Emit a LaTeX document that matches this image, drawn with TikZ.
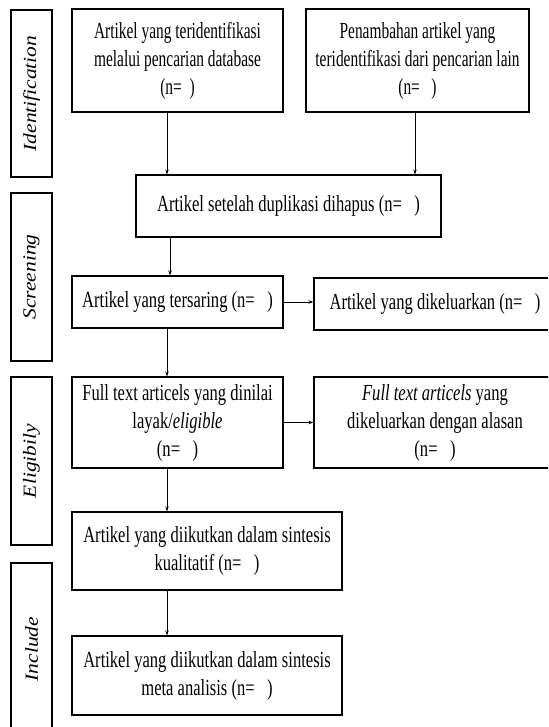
\documentclass[tikz,border=0pt]{standalone}
\usepackage{fontspec}
\usepackage{graphicx}
\usetikzlibrary{arrows.meta}
\setmainfont{Liberation Serif}
\newfontfamily\boxfont[FakeStretch=0.72]{Liberation Serif}
\newfontfamily\boxfontn[FakeStretch=0.67]{Liberation Serif}
\newfontfamily\sidefont{Liberation Serif}
\begin{document}
\begin{tikzpicture}[x=1pt,y=-1pt,
  box/.style={draw, line width=1.1pt, align=center, inner sep=0pt,
    font=\fontsize{23}{28}\selectfont\boxfont},
  narrow/.style={font=\fontsize{23}{28}\selectfont\boxfontn},
  side/.style={draw, line width=1.1pt, inner sep=0pt, minimum width=41pt},
  sidelabel/.style={rotate=90, inner sep=0pt,
    font=\fontsize{21.5}{26}\selectfont\sidefont\itshape},
  arr/.style={line width=0.8pt, -{Stealth[length=5pt,width=3.5pt]}}]
\useasboundingbox (0,0) rectangle (548,727);
\clip (0,0) rectangle (548,727);
\fill[white] (0,0) rectangle (548,727);

% side stage boxes
\node[side, minimum height=167pt] (s1) at (31.5,93.5) {};
\node[side, minimum height=168pt] (s2) at (31.5,277) {};
\node[side, minimum height=168pt] (s3) at (31.5,461) {};
\node[side, minimum height=172pt] (s4) at (31.5,649) {};
\node[sidelabel] (l1) at (s1.center) {\scalebox{1}[0.86]{Identification}};
\node[sidelabel] (l2) at (s2.center) {\scalebox{1}[0.86]{Screening}};
\node[sidelabel] (l3) at (s3.center) {\scalebox{1}[0.86]{Eligibily}};
\node[sidelabel] (l4) at (s4.center) {\scalebox{1}[0.86]{Include}};

% boxes
\node[box, narrow, minimum width=211pt, minimum height=103pt] (A) at (177.5,60.5)
  {Artikel yang teridentifikasi\\melalui pencarian database\\(n=\ \ )};
\node[box, narrow, minimum width=223pt, minimum height=103pt] (B) at (417.5,60.5)
  {Penambahan artikel yang\\teridentifikasi dari pencarian lain\\(n=\ \ \ )};
\node[box, minimum width=305pt, minimum height=62pt] (C) at (288.5,206)
  {Artikel setelah duplikasi dihapus (n=\ \ \ )};
\node[box, minimum width=211pt, minimum height=52pt] (D) at (177.5,302)
  {Artikel yang tersaring (n=\ \ \ )};
\node[box, minimum width=242pt, minimum height=52pt] (E) at (435,304)
  {Artikel yang dikeluarkan (n=\ \ \ )};
\node[box, minimum width=211pt, minimum height=91pt] (F) at (177.5,422.5)
  {Full text articels yang dinilai\\layak/\textit{eligible}\\(n=\ \ \ )};
\node[box, minimum width=242pt, minimum height=91pt] (G) at (435,422.5)
  {\textit{Full text articels} yang\\dikeluarkan dengan alasan\\(n=\ \ \ )};
\node[box, minimum width=270pt, minimum height=78pt] (H) at (207,551)
  {Artikel yang diikutkan dalam sintesis\\kualitatif (n=\ \ \ )};
\node[box, minimum width=270pt, minimum height=79pt] (I) at (207,675.5)
  {Artikel yang diikutkan dalam sintesis\\meta analisis (n=\ \ \ )};

% arrow columns
\coordinate (xa) at (167,0);
\coordinate (xb) at (415,0);
\coordinate (xc) at (170,0);

\draw[arr] (A.south -| xa) -- (C.north -| xa);
\draw[arr] (B.south -| xb) -- (C.north -| xb);
\draw[arr] (C.south -| xc) -- (D.north -| xc);
\draw[arr] (D.east) -- (E.west |- D.east);
\draw[arr] (D.south -| xa) -- (F.north -| xa);
\draw[arr] (F.east) -- (G.west |- F.east);
\draw[arr] (F.south -| xa) -- (H.north -| xa);
\draw[arr] (H.south -| xa) -- (I.north -| xa);
\end{tikzpicture}
\end{document}
